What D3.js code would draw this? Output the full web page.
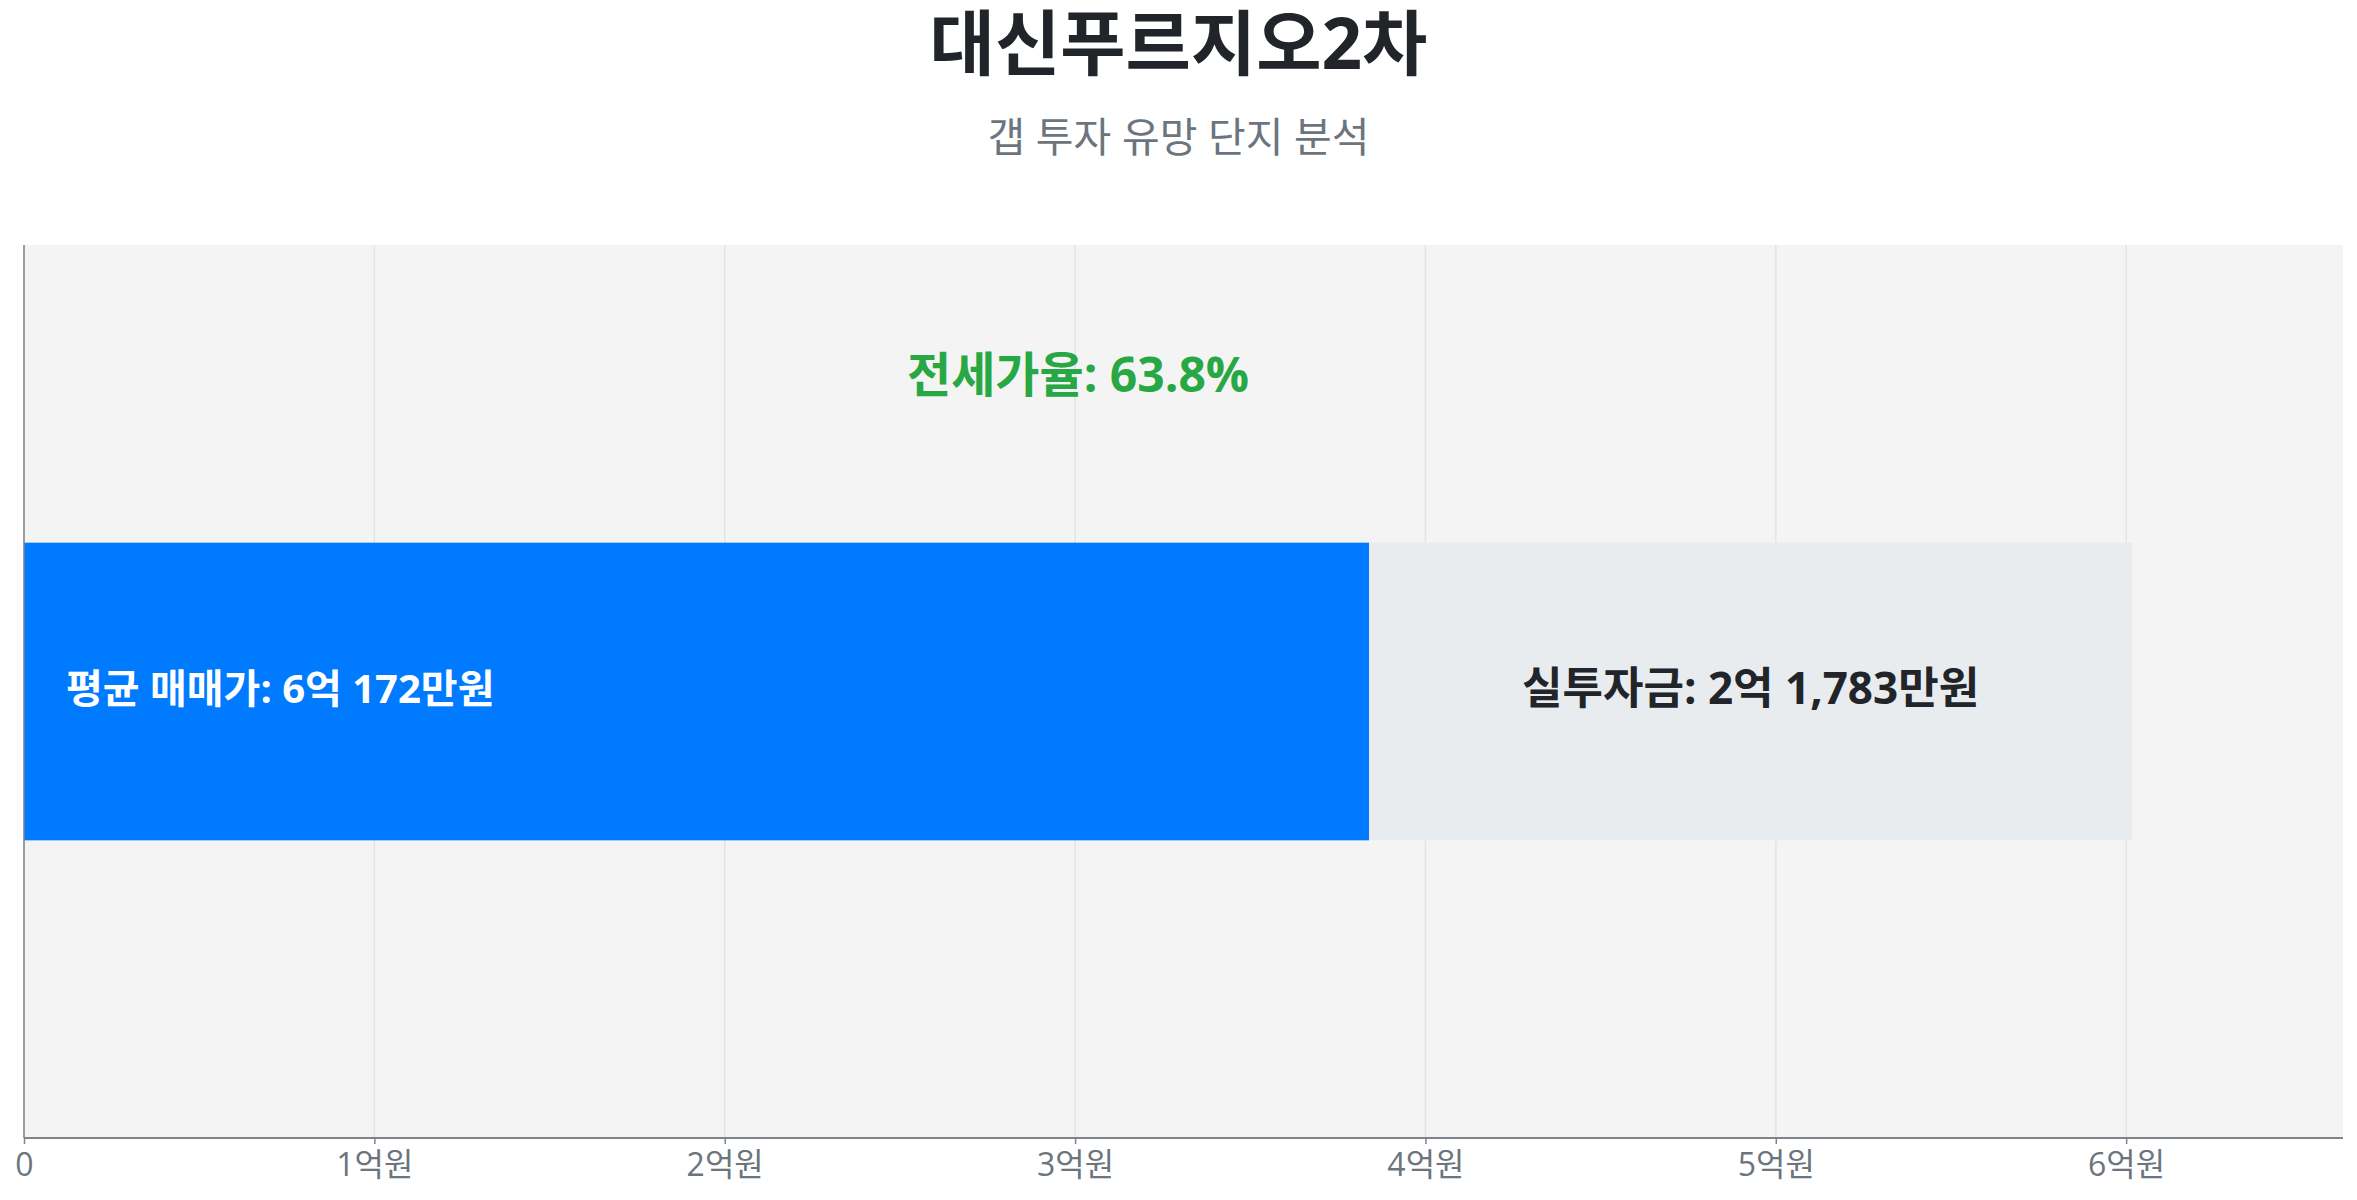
<!DOCTYPE html>
<html lang="ko">
<head>
<meta charset="utf-8">
<script src="https://cdn.jsdelivr.net/npm/d3@7"></script>
<style>
    body { margin: 0; background: #fff; font-family: "Open Sans", "Noto Sans CJK KR", sans-serif; }
    svg { display: block; }
</style>
</head>
<body>
<svg id="chart"></svg>
<script>
const WIDTH = 2357, HEIGHT = 1200;
const margin = { top: 245, right: 14, bottom: 62, left: 24 };
const FONT = '"Open Sans", "Noto Sans CJK KR", sans-serif';

// values in 만원
const complexName = '대신푸르지오2차';
const subtitle = '갭 투자 유망 단지 분석';
const categories = ['대신푸르지오2차'];
const salePrices = [60172];
const jeonsePrices = [38389];
const gapAmounts = [21783];
const tickValues = [0, 10000, 20000, 30000, 40000, 50000, 60000];
const tickLabels = ['0', '1억원', '2억원', '3억원', '4억원', '5억원', '6억원'];

const colors = {
    title: '#212529',
    muted: '#6c757d',
    plotBackground: '#f4f4f4',
    grid: '#e4e4e4',
    axis: '#7d848b',
    jeonse: '#007bff',
    gap: '#e9ecef',
    ratio: '#28a745'
};

function formatManwon(v) {
    let eok = Math.floor(v / 10000), man = v % 10000;
    return eok + '억 ' + d3.format(',')(man) + '만원';
}

const svg = d3.select('#chart').attr('width', WIDTH).attr('height', HEIGHT)
    .attr('font-family', FONT);
const plotW = WIDTH - margin.left - margin.right;
const plotH = HEIGHT - margin.top - margin.bottom;

svg.append('text')
    .attr('x', WIDTH / 2).attr('y', 69)
    .attr('text-anchor', 'middle')
    .attr('font-size', 71).attr('font-weight', 700)
    .attr('fill', colors.title)
    .text(complexName);

svg.append('text')
    .attr('x', WIDTH / 2).attr('y', 152)
    .attr('text-anchor', 'middle')
    .attr('font-size', 41)
    .attr('fill', colors.muted)
    .text(subtitle);

const g = svg.append('g').attr('transform', `translate(${margin.left},${margin.top})`);

const x = d3.scaleLinear().domain([0, d3.max(salePrices) * 1.1]).range([0, plotW]);
const y = d3.scaleBand().domain(categories).range([0, plotH]).paddingInner(0).paddingOuter(1);

g.append('rect')
    .attr('width', plotW).attr('height', plotH)
    .attr('fill', colors.plotBackground);

g.selectAll('.grid')
    .data(tickValues)
    .join('line')
    .attr('class', 'grid')
    .attr('x1', d => x(d)).attr('x2', d => x(d))
    .attr('y1', 0).attr('y2', plotH)
    .attr('stroke', colors.grid).attr('stroke-width', 1.5);

// jeonse part
g.selectAll('.jeonse')
    .data(categories)
    .join('rect')
    .attr('class', 'jeonse')
    .attr('x', x(0))
    .attr('y', d => y(d))
    .attr('width', (d, i) => x(jeonsePrices[i]) - x(0))
    .attr('height', y.bandwidth())
    .attr('fill', colors.jeonse);

// gap part
g.selectAll('.gap')
    .data(categories)
    .join('rect')
    .attr('class', 'gap')
    .attr('x', (d, i) => x(jeonsePrices[i]))
    .attr('y', d => y(d))
    .attr('width', (d, i) => x(jeonsePrices[i] + gapAmounts[i]) - x(jeonsePrices[i]))
    .attr('height', y.bandwidth())
    .attr('fill', colors.gap);

categories.forEach((c, i) => {
    let mid = y(c) + y.bandwidth() / 2;
    g.append('text')
        .attr('x', x(0) + 42).attr('y', mid - 4)
        .attr('dominant-baseline', 'central')
        .attr('font-size', 40).attr('font-weight', 700)
        .attr('fill', '#fff')
        .text('평균 매매가: ' + formatManwon(salePrices[i]));

    g.append('text')
        .attr('x', (x(jeonsePrices[i]) + x(salePrices[i])) / 2).attr('y', mid - 5)
        .attr('text-anchor', 'middle')
        .attr('dominant-baseline', 'central')
        .attr('font-size', 44).attr('font-weight', 700)
        .attr('fill', colors.title)
        .text('실투자금: ' + formatManwon(gapAmounts[i]));

    let ratio = jeonsePrices[i] / salePrices[i] * 100;
    g.append('text')
        .attr('x', x(salePrices[i] / 2)).attr('y', y(c) - 169)
        .attr('text-anchor', 'middle')
        .attr('dominant-baseline', 'central')
        .attr('font-size', 48).attr('font-weight', 700)
        .attr('fill', colors.ratio)
        .text('전세가율: ' + ratio.toFixed(1) + '%');
});

const xAxis = g.append('g')
    .attr('transform', `translate(0,${plotH})`)
    .call(d3.axisBottom(x).tickValues(tickValues).tickFormat((d, i) => tickLabels[i]).tickSize(6).tickSizeOuter(0));
xAxis.select('.domain').attr('stroke', colors.axis).attr('stroke-width', 2).attr('d', `M0,0H${plotW}`);
xAxis.selectAll('.tick line').attr('stroke', colors.axis).attr('stroke-width', 1.5);
xAxis.selectAll('.tick text')
    .attr('font-family', FONT)
    .attr('font-size', 32).attr('fill', colors.muted).attr('dy', '0.9em');

g.append('line')
    .attr('x1', 0).attr('x2', 0).attr('y1', 0).attr('y2', plotH)
    .attr('stroke', colors.axis).attr('stroke-width', 1.5);
</script>
</body>
</html>
